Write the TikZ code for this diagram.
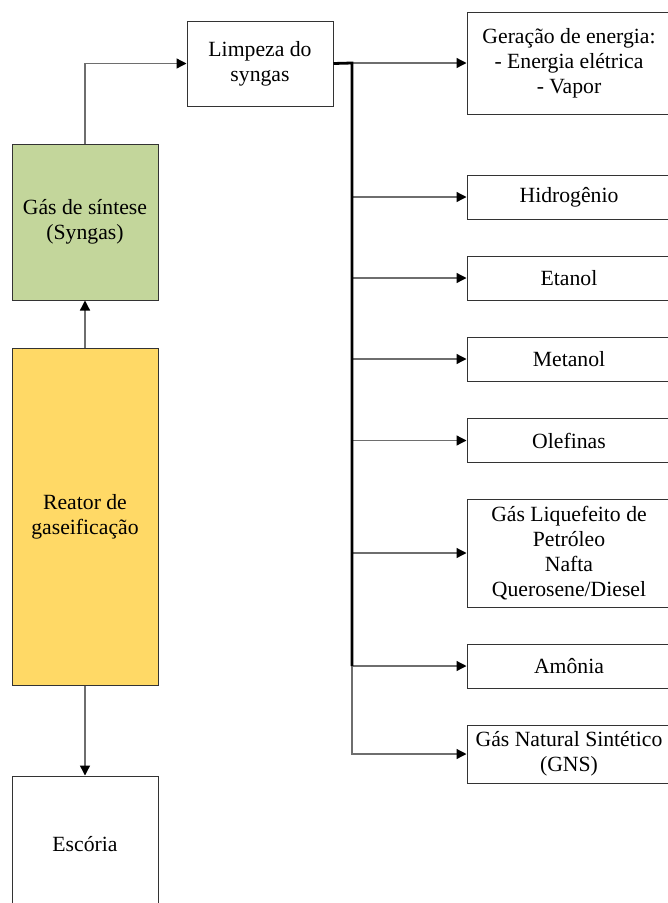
\documentclass[tikz,border=0pt]{standalone}
\usepackage{fontspec}
\setmainfont{Liberation Serif}
\usetikzlibrary{positioning,arrows.meta}
\definecolor{syngasgreen}{RGB}{195,214,155}
\definecolor{reatoryellow}{RGB}{255,217,102}
\definecolor{linkgray}{RGB}{110,110,110}
\tikzset{
  box/.style={draw=black!80, line width=1pt, rectangle, align=center, inner sep=2pt,
    font=\fontsize{21.7}{25}\selectfont},
  leftbox/.style={box, minimum width=146pt},
  prodbox/.style={box, minimum width=204pt, minimum height=44pt},
  link/.style={draw=linkgray, line width=1.3pt,
    -{Triangle[length=10pt,width=10pt,color=black]}},
  trunk/.style={draw=black, line width=2.8pt}
}

\begin{document}
\begin{tikzpicture}[x=1pt, y=1pt]
  \useasboundingbox (0,0) rectangle (668,-903);

  % left column
  \node[leftbox, fill=syngasgreen, minimum height=156pt] (syngas) at (85,-222) {Gás de síntese\\(Syngas)};
  \node[leftbox, fill=reatoryellow, minimum height=337pt, below=47pt of syngas] (reator) {Reator de\\gaseificação};
  \node[leftbox, minimum height=136pt, below=90pt of reator] (escoria) {Escória};
  \node[leftbox, minimum height=85pt] (limpeza) at (260,-63.5) {Limpeza do\\syngas};

  % products
  \node[prodbox, minimum height=102pt] (geracao) at (569,-63) {Geração de energia:\\- Energia elétrica\\- Vapor};
  \node[prodbox] (hidrogenio) at (569,-197) {Hidrogênio};
  \node[prodbox] (etanol) at (569,-278) {Etanol};
  \node[prodbox] (metanol) at (569,-359) {Metanol};
  \node[prodbox] (olefinas) at (569,-440.5) {Olefinas};
  \node[prodbox, minimum height=108pt] (glp) at (569,-553) {Gás Liquefeito de\\Petróleo\\Nafta\\Querosene/Diesel};
  \node[prodbox] (amonia) at (569,-666) {Amônia};
  \node[prodbox, minimum height=58pt] (gns) at (569,-754) {Gás Natural Sintético\\(GNS)};

  \coordinate (split) at (352,-63);
  \coordinate (trunkend) at (352,-666);

  % connections
  \draw[link] (reator) -- (syngas);
  \draw[link] (reator) -- (escoria);
  \draw[link] (syngas.north) |- (limpeza.west);
  \draw[link] (split) -- (geracao.west);
  \foreach \prod in {hidrogenio,etanol,metanol,olefinas,glp,amonia,gns}
    \draw[link] (split) |- (\prod.west);
  \draw[trunk] (limpeza.east) -- (split) -- (trunkend);
\end{tikzpicture}
\end{document}
